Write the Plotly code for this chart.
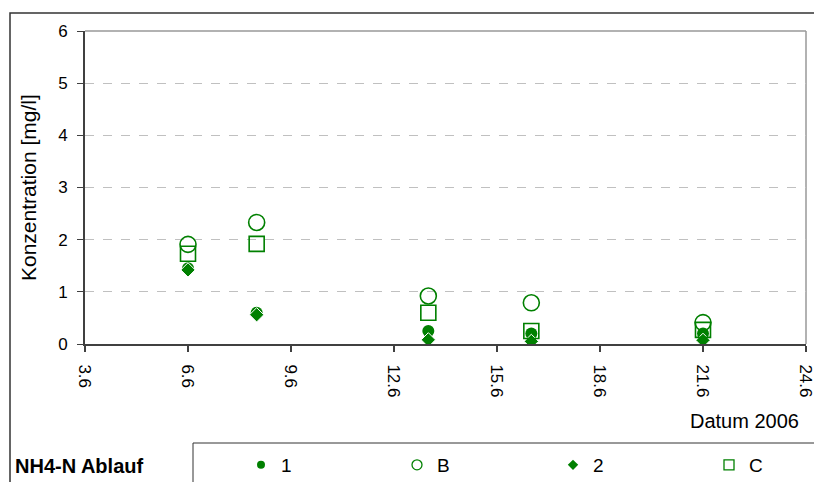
import plotly.graph_objects as go

# ---- data ----
dates = ["2006-06-06", "2006-06-08", "2006-06-13", "2006-06-16", "2006-06-21"]
series_names = ["1", "B", "2", "C"]
s1 = [1.45, 0.60, 0.25, 0.20, 0.20]
sB = [1.91, 2.33, 0.92, 0.79, 0.41]
s2 = [1.42, 0.56, 0.08, 0.05, 0.07]
sC = [1.73, 1.92, 0.60, 0.25, 0.27]
tick_vals = ["2006-06-03", "2006-06-06", "2006-06-09", "2006-06-12",
             "2006-06-15", "2006-06-18", "2006-06-21", "2006-06-24"]
tick_text = ["3.6", "6.6", "9.6", "12.6", "15.6", "18.6", "21.6", "24.6"]
y_title = "Konzentration [mg/l]"
x_title = "Datum 2006"
legend_title = "NH4-N Ablauf"

W, H = 814, 482
L, R, T, B = 85, 8, 31, 138
PW, PH = W - L - R, H - T - B
GREEN = "#008000"
FONT = "Arial, Liberation Sans, sans-serif"


def px(x):
    return (x - L) / PW


def py(y):
    return (H - B - y) / PH


styles = [
    dict(symbol="circle", size=12, color=GREEN, line=dict(color=GREEN, width=0)),
    dict(symbol="circle-open", size=16, color=GREEN, line=dict(color=GREEN, width=1.6)),
    dict(symbol="diamond", size=11, color=GREEN, line=dict(color="white", width=1)),
    dict(symbol="square-open", size=15, color=GREEN, line=dict(color=GREEN, width=1.6)),
]
leg_styles = [
    dict(symbol="circle", size=8, color=GREEN, line=dict(width=0)),
    dict(symbol="circle-open", size=10, color=GREEN, line=dict(color=GREEN, width=1.3)),
    dict(symbol="diamond", size=8, color=GREEN, line=dict(width=0)),
    dict(symbol="square-open", size=10, color=GREEN, line=dict(color=GREEN, width=1.3)),
]

fig = go.Figure()
for name, vals, st in zip(series_names, [s1, sB, s2, sC], styles):
    fig.add_trace(go.Scatter(x=dates, y=vals, mode="markers", name=name,
                             marker=st, showlegend=False, legendgroup=name))
for name, st in zip(series_names, leg_styles):
    fig.add_trace(go.Scatter(x=[None], y=[None], mode="markers", name=name,
                             marker=st, showlegend=True, legendgroup=name))

fig.update_layout(
    width=W, height=H,
    margin=dict(l=L, r=R, t=T, b=B, autoexpand=False),
    paper_bgcolor="white", plot_bgcolor="white",
    font=dict(family=FONT, color="black", size=16),
    xaxis=dict(
        type="date", range=["2006-06-03", "2006-06-24"],
        tickvals=tick_vals, ticktext=tick_text, tickangle=90,
        tickfont=dict(size=17), ticks="outside", ticklen=6, tickwidth=1.5,
        tickcolor="#404040", showline=True, linecolor="#404040", linewidth=2,
        showgrid=False, zeroline=False, ticklabelstandoff=9,
        ticklabeloverflow="allow",
    ),
    yaxis=dict(
        range=[0, 6], dtick=1, tickfont=dict(size=17), ticks="outside",
        ticklen=6, tickwidth=1, tickcolor="#404040", showline=True,
        linecolor="#404040", linewidth=2, showgrid=True, gridcolor="#c0c0c0",
        griddash="dash", gridwidth=1, zeroline=False, ticklabelstandoff=6,
    ),
    legend=dict(
        orientation="h", x=px(241), xanchor="left", y=py(465), yanchor="middle",
        entrywidth=111, entrywidthmode="pixels", font=dict(size=19),
        bgcolor="rgba(0,0,0,0)", borderwidth=0, itemclick=False,
    ),
    shapes=[
        dict(type="line", xref="paper", yref="paper", x0=0, x1=1, y0=1, y1=1,
             line=dict(color="#999999", width=1.5), layer="below"),
        dict(type="line", xref="paper", yref="paper", x0=1, x1=1, y0=0, y1=1,
             line=dict(color="#999999", width=1.5), layer="below"),
        dict(type="rect", xref="paper", yref="paper", x0=px(10), x1=px(830),
             y0=py(13), y1=py(520), line=dict(color="#333333", width=1.5)),
        dict(type="rect", xref="paper", yref="paper", x0=px(193), x1=px(830),
             y0=py(443), y1=py(520), line=dict(color="#333333", width=1)),
    ],
    annotations=[
        dict(text=y_title, xref="paper", yref="paper", x=px(28), y=py(188),
             textangle=-90, showarrow=False, font=dict(size=21),
             xanchor="center", yanchor="middle"),
        dict(text=x_title, xref="paper", yref="paper", x=px(744), y=py(421),
             showarrow=False, font=dict(size=20), xanchor="center", yanchor="middle"),
        dict(text="<b>" + legend_title + "</b>", xref="paper", yref="paper",
             x=px(13), y=py(466), showarrow=False, font=dict(size=20),
             xanchor="left", yanchor="middle"),
    ],
)

fig.write_html("out.html", config={"displayModeBar": False},
               post_script="document.body.style.margin='0px';document.body.style.overflow='hidden';")
